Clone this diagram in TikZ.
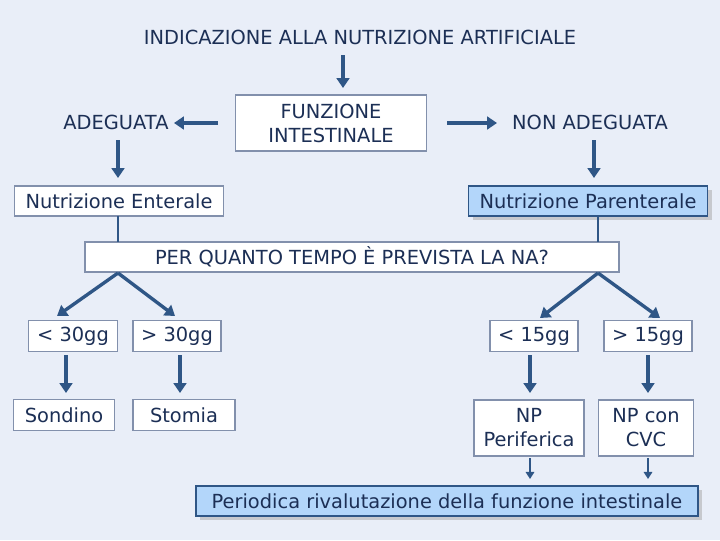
\documentclass[tikz,border=0pt]{standalone}
\usepackage{fontspec}
\setmainfont{DejaVu Sans}
\usetikzlibrary{arrows.meta,shadows}
\definecolor{bgcol}{HTML}{E9EEF8}
\definecolor{arrcol}{HTML}{2F5686}
\definecolor{boxline}{HTML}{8290AC}
\definecolor{hifill}{HTML}{B3D6FA}
\definecolor{txtcol}{HTML}{1C2F55}
\tikzset{
  box/.style={draw=boxline,fill=white,minimum height=30*0.025cm,inner sep=0pt,line width=0.8pt},
  hibox/.style={box,draw=arrcol,fill=hifill,drop shadow={shadow xshift=3pt,shadow yshift=-3pt,fill=gray!70}},
  lbl/.style={inner sep=0pt},
  fat/.style={arrcol,line width=2.4pt,-{Triangle[length=7pt,width=9pt]}},
  thin/.style={arrcol,line width=1.6pt,-{Triangle[length=5pt,width=6pt]}},
  link/.style={arrcol,line width=2pt},
}
\begin{document}
\begin{tikzpicture}[x=0.025cm,y=-0.025cm,font=\fontsize{13.8}{17}\selectfont,text=txtcol]
\fill[bgcol] (0,0) rectangle (720,540);
\useasboundingbox (0,0) rectangle (720,540);
% top
\node[lbl] (titolo) at (360,37) {INDICAZIONE ALLA NUTRIZIONE ARTIFICIALE};
\node[box,minimum width=191*0.025cm,minimum height=56*0.025cm,align=center] (funz) at (331,123) {FUNZIONE\\INTESTINALE};
\node[lbl] (adeg) at (116,122) {ADEGUATA};
\node[lbl] (nonadeg) at (590,122) {NON ADEGUATA};
\coordinate (t1) at (343,55); \coordinate (t2) at (343,88);
\draw[fat] (t1) -- (t2);
\coordinate (a1) at (218,123); \coordinate (a2) at (174,123);
\draw[fat] (a1) -- (a2);
\coordinate (n1) at (447,123); \coordinate (n2) at (497,123);
\draw[fat] (n1) -- (n2);
% second row
\node[box,minimum width=209*0.025cm] (ent) at (119,201) {Nutrizione Enterale};
\node[hibox,minimum width=239*0.025cm] (par) at (588,201) {Nutrizione Parenterale};
\coordinate (e1) at (118,140); \coordinate (e2) at (118,178);
\draw[fat] (e1) -- (e2);
\coordinate (p1) at (594,140); \coordinate (p2) at (594,178);
\draw[fat] (p1) -- (p2);
\node[box,minimum width=534*0.025cm] (tempo) at (352,257) {PER QUANTO TEMPO È PREVISTA LA NA?};
\draw[link] (118,216) -- (118,242);
\draw[link] (598,216) -- (598,242);
% split
\node[box,minimum width=89*0.025cm,minimum height=31*0.025cm] (m30) at (73,336) {< 30gg};
\node[box,minimum width=88*0.025cm,minimum height=31*0.025cm] (p30) at (177,336) {> 30gg};
\node[box,minimum width=88*0.025cm,minimum height=31*0.025cm] (m15) at (534,336) {< 15gg};
\node[box,minimum width=88*0.025cm,minimum height=31*0.025cm] (p15) at (648,336) {> 15gg};
\coordinate (s1) at (118,273); \coordinate (s2) at (598,273);
\draw[fat] (s1) -- (57,316);
\draw[fat] (s1) -- (175,316);
\draw[fat] (s2) -- (540,318);
\draw[fat] (s2) -- (660,318);
% bottom
\node[box,minimum width=101*0.025cm,minimum height=31*0.025cm] (sond) at (64,415) {Sondino};
\node[box,minimum width=102*0.025cm,minimum height=31*0.025cm] (stom) at (184,415) {Stomia};
\node[box,minimum width=110*0.025cm,minimum height=56*0.025cm,align=center] (npp) at (529,428) {NP\\Periferica};
\node[box,minimum width=95*0.025cm,minimum height=56*0.025cm,align=center] (npc) at (646,428) {NP con\\CVC};
\draw[fat] (66,355) -- (66,393);
\draw[fat] (180,355) -- (180,393);
\draw[fat] (530,355) -- (530,393);
\draw[fat] (648,355) -- (648,393);
\node[hibox,minimum width=502*0.025cm] (riv) at (447,501) {Periodica rivalutazione della funzione intestinale};
\draw[thin] (530,458) -- (530,479);
\draw[thin] (648,458) -- (648,479);
\end{tikzpicture}
\end{document}
